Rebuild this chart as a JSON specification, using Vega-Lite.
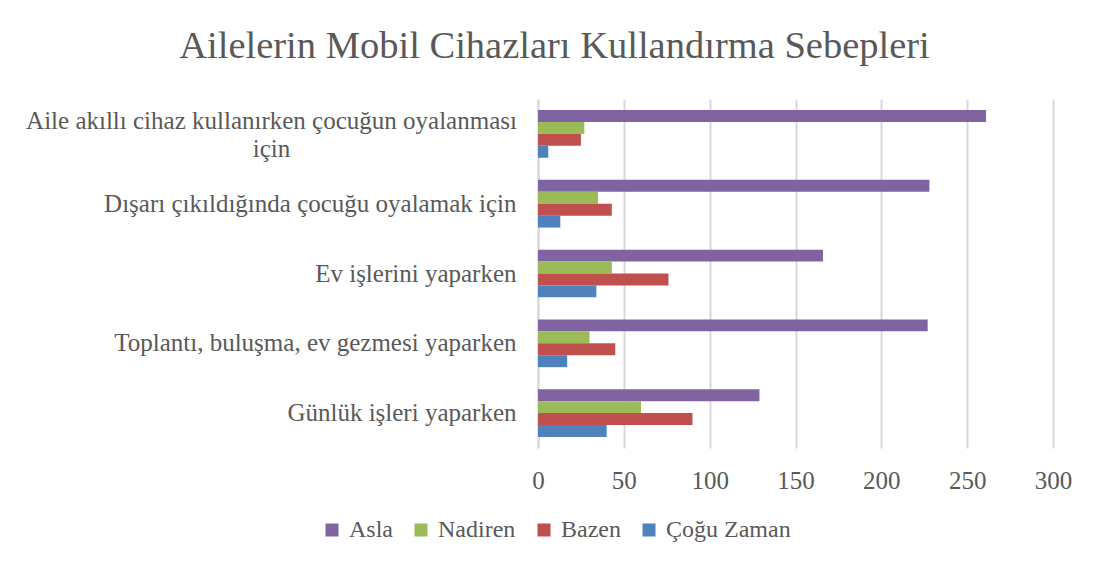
{
  "$schema": "https://vega.github.io/schema/vega-lite/v6.json",
  "autosize": {"type": "none"},
  "padding": {"left": 538, "top": 99, "right": 45, "bottom": 122},
  "width": 515,
  "height": 349,
  "background": "white",
  "title": {
    "text": "Ailelerin Mobil Cihazları Kullandırma Sebepleri",
    "anchor": "middle",
    "frame": "group",
    "dx": -241,
    "offset": 33,
    "font": "Liberation Serif",
    "fontSize": 38.5,
    "fontWeight": "normal",
    "color": "#595959"
  },
  "data": {
    "values": [
      {"neden": "Aile akıllı cihaz kullanırken çocuğun oyalanması için", "seri": "Asla", "deger": 261},
      {"neden": "Aile akıllı cihaz kullanırken çocuğun oyalanması için", "seri": "Nadiren", "deger": 27},
      {"neden": "Aile akıllı cihaz kullanırken çocuğun oyalanması için", "seri": "Bazen", "deger": 25},
      {"neden": "Aile akıllı cihaz kullanırken çocuğun oyalanması için", "seri": "Çoğu Zaman", "deger": 6},
      {"neden": "Dışarı çıkıldığında çocuğu oyalamak için", "seri": "Asla", "deger": 228},
      {"neden": "Dışarı çıkıldığında çocuğu oyalamak için", "seri": "Nadiren", "deger": 35},
      {"neden": "Dışarı çıkıldığında çocuğu oyalamak için", "seri": "Bazen", "deger": 43},
      {"neden": "Dışarı çıkıldığında çocuğu oyalamak için", "seri": "Çoğu Zaman", "deger": 13},
      {"neden": "Ev işlerini yaparken", "seri": "Asla", "deger": 166},
      {"neden": "Ev işlerini yaparken", "seri": "Nadiren", "deger": 43},
      {"neden": "Ev işlerini yaparken", "seri": "Bazen", "deger": 76},
      {"neden": "Ev işlerini yaparken", "seri": "Çoğu Zaman", "deger": 34},
      {"neden": "Toplantı, buluşma, ev gezmesi yaparken", "seri": "Asla", "deger": 227},
      {"neden": "Toplantı, buluşma, ev gezmesi yaparken", "seri": "Nadiren", "deger": 30},
      {"neden": "Toplantı, buluşma, ev gezmesi yaparken", "seri": "Bazen", "deger": 45},
      {"neden": "Toplantı, buluşma, ev gezmesi yaparken", "seri": "Çoğu Zaman", "deger": 17},
      {"neden": "Günlük işleri yaparken", "seri": "Asla", "deger": 129},
      {"neden": "Günlük işleri yaparken", "seri": "Nadiren", "deger": 60},
      {"neden": "Günlük işleri yaparken", "seri": "Bazen", "deger": 90},
      {"neden": "Günlük işleri yaparken", "seri": "Çoğu Zaman", "deger": 40}
    ]
  },
  "mark": {"type": "bar"},
  "encoding": {
    "y": {
      "field": "neden",
      "type": "nominal",
      "sort": null,
      "scale": {"paddingInner": 0.316, "paddingOuter": 0.158},
      "axis": {
        "title": null,
        "ticks": false,
        "domainColor": "#D9D9D9",
        "domainWidth": 2,
        "labelFont": "Liberation Serif",
        "labelFontSize": 25,
        "labelColor": "#595959",
        "labelLimit": 700,
        "labelLineHeight": 28,
        "labelAlign": {"condition": {"test": "datum.value == 'Aile akıllı cihaz kullanırken çocuğun oyalanması için'", "value": "center"}, "value": "right"},
        "labelPadding": {"condition": {"test": "datum.value == 'Aile akıllı cihaz kullanırken çocuğun oyalanması için'", "value": 267}, "value": 22},
        "labelOffset": {"condition": {"test": "datum.value == 'Aile akıllı cihaz kullanırken çocuğun oyalanması için'", "value": -13}, "value": 0},
        "labelExpr": "datum.value == 'Aile akıllı cihaz kullanırken çocuğun oyalanması için' ? ['Aile akıllı cihaz kullanırken çocuğun oyalanması', 'için'] : datum.value"
      }
    },
    "yOffset": {
      "field": "seri",
      "type": "nominal",
      "scale": {"domain": ["Asla", "Nadiren", "Bazen", "Çoğu Zaman"], "paddingInner": 0, "paddingOuter": 0}
    },
    "x": {
      "field": "deger",
      "type": "quantitative",
      "scale": {"domain": [0, 300], "nice": false},
      "axis": {
        "title": null,
        "values": [0, 50, 100, 150, 200, 250, 300],
        "domain": false,
        "ticks": false,
        "grid": true,
        "gridColor": "#D9D9D9",
        "gridWidth": 2,
        "labelFlush": false,
        "labelFont": "Liberation Serif",
        "labelFontSize": 25,
        "labelColor": "#595959",
        "labelPadding": 20
      }
    },
    "color": {
      "field": "seri",
      "type": "nominal",
      "scale": {
        "domain": ["Asla", "Nadiren", "Bazen", "Çoğu Zaman"],
        "range": ["#8064A2", "#9BBB59", "#C0504D", "#4F81BD"]
      },
      "legend": {
        "title": null,
        "orient": "none",
        "direction": "horizontal",
        "legendX": -218,
        "legendY": 419,
        "symbolType": "square",
        "symbolSize": 169,
        "symbolStrokeWidth": 0,
        "symbolOpacity": 1,
        "labelFont": "Liberation Serif",
        "labelFontSize": 24,
        "labelColor": "#595959",
        "labelOffset": 5,
        "columnPadding": 16
      }
    }
  },
  "config": {"view": {"stroke": null}}
}
